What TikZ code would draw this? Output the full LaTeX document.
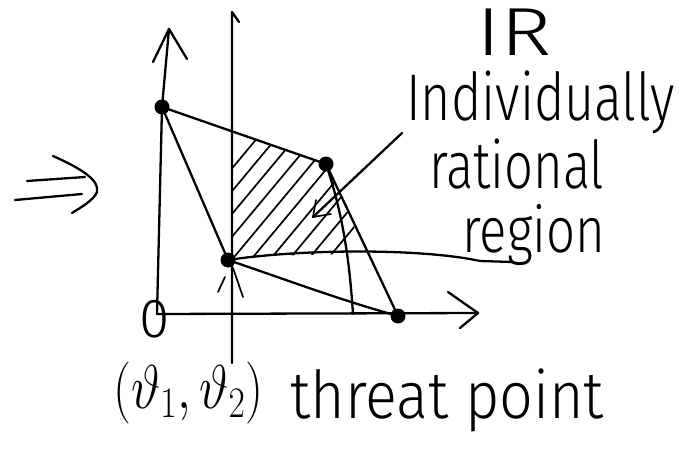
\RequirePackage{fix-cm}
\documentclass[tikz,border=0pt]{standalone}
\usepackage{fontspec}
\usepackage{graphicx}
\setmainfont{Fira Sans Light}
\newcommand\hwtext[3]{{\fontsize{#1}{#1}\selectfont\resizebox{#2}{\height}{#3}}}
\begin{document}
\begin{tikzpicture}[x=1pt,y=-1pt,
  hand/.style={line width=2.3pt,line cap=round,line join=round},
  hatchline/.style={line width=1.7pt,line cap=round},
  dot/.style={circle,fill,inner sep=0pt,minimum size=15pt},
  lbl/.style={inner sep=0pt,anchor=base west}]
\useasboundingbox (0,0) rectangle (686,455);
% key points
\coordinate (O) at (157,314);
\coordinate (ytip) at (169,29);
\coordinate (xtip) at (478,313);
\coordinate (vtop) at (232,12);
\coordinate (vbot) at (232,363);
\coordinate (arcend) at (353,314);
\coordinate (gend) at (513,262);
\coordinate (ptrstart) at (402,133);
\coordinate (ptrend) at (313,217);
\node[dot] (A) at (162,107) {};
\node[dot] (B) at (326,164) {};
\node[dot] (T) at (228,260) {};
\node[dot] (C) at (398,316) {};
% hatching
\begin{scope}
  \clip (232,131) -- (B.center) -- (359,238) -- (350,254) -- (232,257) -- cycle;
  \foreach \c in {154,173,...,360} \draw[hatchline] (\c,262) -- ++(120,-144);
\end{scope}
% axes
\draw[hand] (O) -- (A.center) -- (ytip);
\draw[hand] (153,62) -- (ytip) -- (187,59);
\draw[hand] (O) -- (xtip);
\draw[hand] (448,292) -- (xtip) -- (460,328);
\draw[hand] (vbot) -- (vtop) -- (239,22);
\node[inner sep=0pt,font=\fontsize{55}{55}\selectfont] (zero) at (155,319) {0};
% implication arrow
\draw[hand] (27,181) -- (85,177);
\draw[hand] (15,200) -- (82,194);
\draw[hand] (53,156) .. controls (80,168) and (100,180) .. (97,192)
  .. controls (94,200) and (80,208) .. (72,213);
% feasible set
\draw[hand] (A.center) -- (B.center);
\draw[hand] (A.center) -- (T.center);
\draw[hand] (B.center) -- (C.center);
\draw[hand] (T.center) .. controls (290,281) and (340,300) .. (C.center);
\draw[hand] (B.center) .. controls (345,220) and (350,270) .. (arcend);
\draw[hatchline] (233,268) -- (243,297);
\draw[hatchline] (225,277) -- (218,292);
% threat point connector
\draw[hand] (T.center) .. controls (300,249) and (420,248) .. (480,261) -- (gend);
% pointer
\draw[hand] (ptrstart) -- (ptrend);
\draw[hatchline] (316,200) -- (ptrend) -- (331,214);
% labels
\node[lbl] (ir) at (476,55) {\hwtext{68}{76pt}{IR}};
\node[lbl] (ind) at (406,120) {\hwtext{66}{269pt}{Individually}};
\node[lbl] (rat) at (429,188) {\hwtext{66}{175pt}{rational}};
\node[lbl] (reg) at (462,252) {\hwtext{64}{143pt}{region}};
\node[lbl] (th) at (113,408) {{\fontsize{62}{62}\selectfont\resizebox{150pt}{\height}{$\bigl(\vartheta_1,\vartheta_2\bigr)$}}};
\node[lbl] (tp) at (290,418) {\hwtext{66}{314pt}{threat point}};
\end{tikzpicture}
\end{document}
